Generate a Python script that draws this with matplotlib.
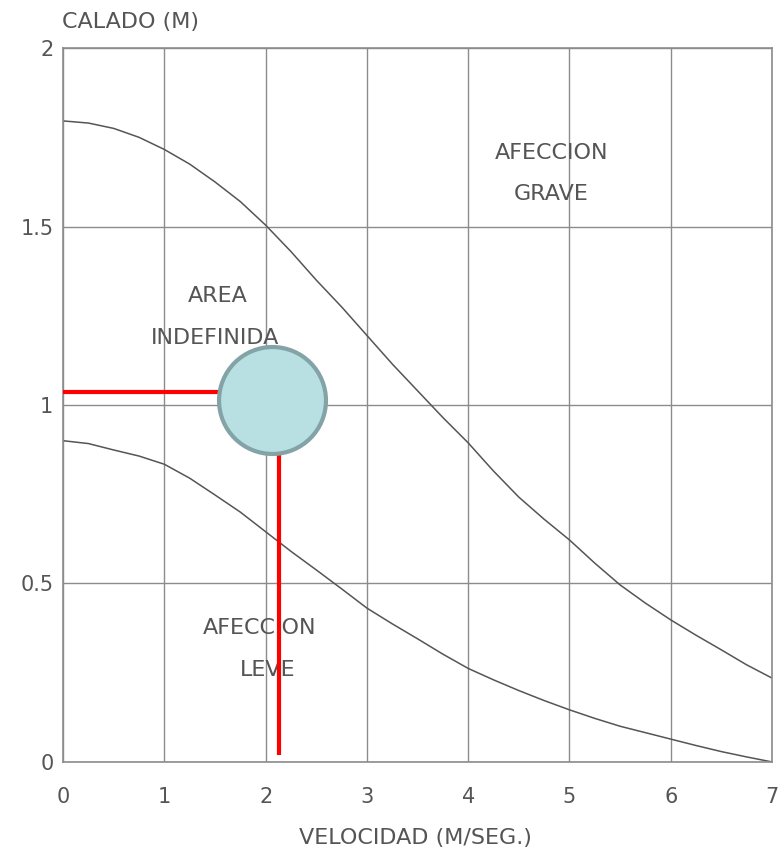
import matplotlib
matplotlib.use("Agg")
import matplotlib.pyplot as plt

# velocidad (m/s) y calado (m)
vel = [0, 0.25, 0.5, 0.75, 1, 1.25, 1.5, 1.75, 2, 2.25, 2.5, 2.75, 3, 3.25, 3.5, 3.75,
       4, 4.25, 4.5, 4.75, 5, 5.25, 5.5, 5.75, 6, 6.25, 6.5, 6.75, 7]
calado_grave = [1.796, 1.79, 1.775, 1.75, 1.716, 1.675, 1.625, 1.57, 1.504, 1.43, 1.35, 1.275, 1.195,
                1.115, 1.04, 0.965, 0.894, 0.815, 0.742, 0.68, 0.622, 0.557, 0.496, 0.445, 0.398,
                0.355, 0.314, 0.272, 0.235]
calado_leve = [0.90, 0.892, 0.874, 0.857, 0.834, 0.795, 0.748, 0.70, 0.645, 0.59, 0.538, 0.485, 0.431,
               0.387, 0.345, 0.302, 0.262, 0.23, 0.20, 0.172, 0.146, 0.122, 0.10, 0.082, 0.064,
               0.046, 0.029, 0.014, 0.0]

x_ticks = [0, 1, 2, 3, 4, 5, 6, 7]
y_ticks = [0, 0.5, 1, 1.5, 2]
y_labels = ["0", "0.5", "1", "1.5", "2"]

# punto marcado y lineas rojas
punto_v, punto_c = 2.06, 1.015
linea_h = 1.036
linea_v = 2.13

grey = "#555555"
plt.rcParams['font.family'] = ['DejaVu Sans']

fig = plt.figure(figsize=(7.79, 8.59), dpi=100)
ax = fig.add_axes([0.081, 0.113, 0.91, 0.831])
ax.set_xlim(0, 7)
ax.set_ylim(0, 2)
ax.set_xticks(x_ticks)
ax.set_yticks(y_ticks)
ax.set_yticklabels(y_labels)
ax.tick_params(length=0, labelsize=15, labelcolor=grey)
ax.tick_params(axis='x', pad=18)
ax.tick_params(axis='y', pad=7)
ax.grid(True, color="#8c8c8c", lw=1.0)
for s in ax.spines.values():
    s.set_color("#8c8c8c")
    s.set_linewidth(1.2)

ax.plot(vel, calado_grave, color=grey, lw=1.1)
ax.plot(vel, calado_leve, color=grey, lw=1.1)

ax.text(4.82, 1.706, "AFECCION", ha='center', va='center', fontsize=16, color=grey)
ax.text(4.82, 1.59, "GRAVE", ha='center', va='center', fontsize=16, color=grey)
ax.text(1.53, 1.305, "AREA", ha='center', va='center', fontsize=16, color=grey)
ax.text(1.50, 1.188, "INDEFINIDA", ha='center', va='center', fontsize=16, color=grey)
ax.text(1.94, 0.375, "AFECCION", ha='center', va='center', fontsize=16, color=grey)
ax.text(2.02, 0.258, "LEVE", ha='center', va='center', fontsize=16, color=grey)

ax.plot([0, punto_v - 0.5], [linea_h, linea_h], color="red", lw=3, solid_capstyle='butt', zorder=4)
ax.plot([linea_v, linea_v], [punto_c - 0.1, 0.02], color="red", lw=3, solid_capstyle='butt', zorder=4)
ax.scatter([punto_v], [punto_c], s=77**2, color="#b8dfe2", edgecolor="#83a3a6", linewidth=3, zorder=5, clip_on=False)

fig.text(0.08, 0.974, "CALADO (M)", ha='left', va='center', fontsize=16, color=grey)
fig.text(0.533, 0.024, "VELOCIDAD (M/SEG.)", ha='center', va='center', fontsize=16, color=grey)

fig.savefig("out.png", dpi=100)
